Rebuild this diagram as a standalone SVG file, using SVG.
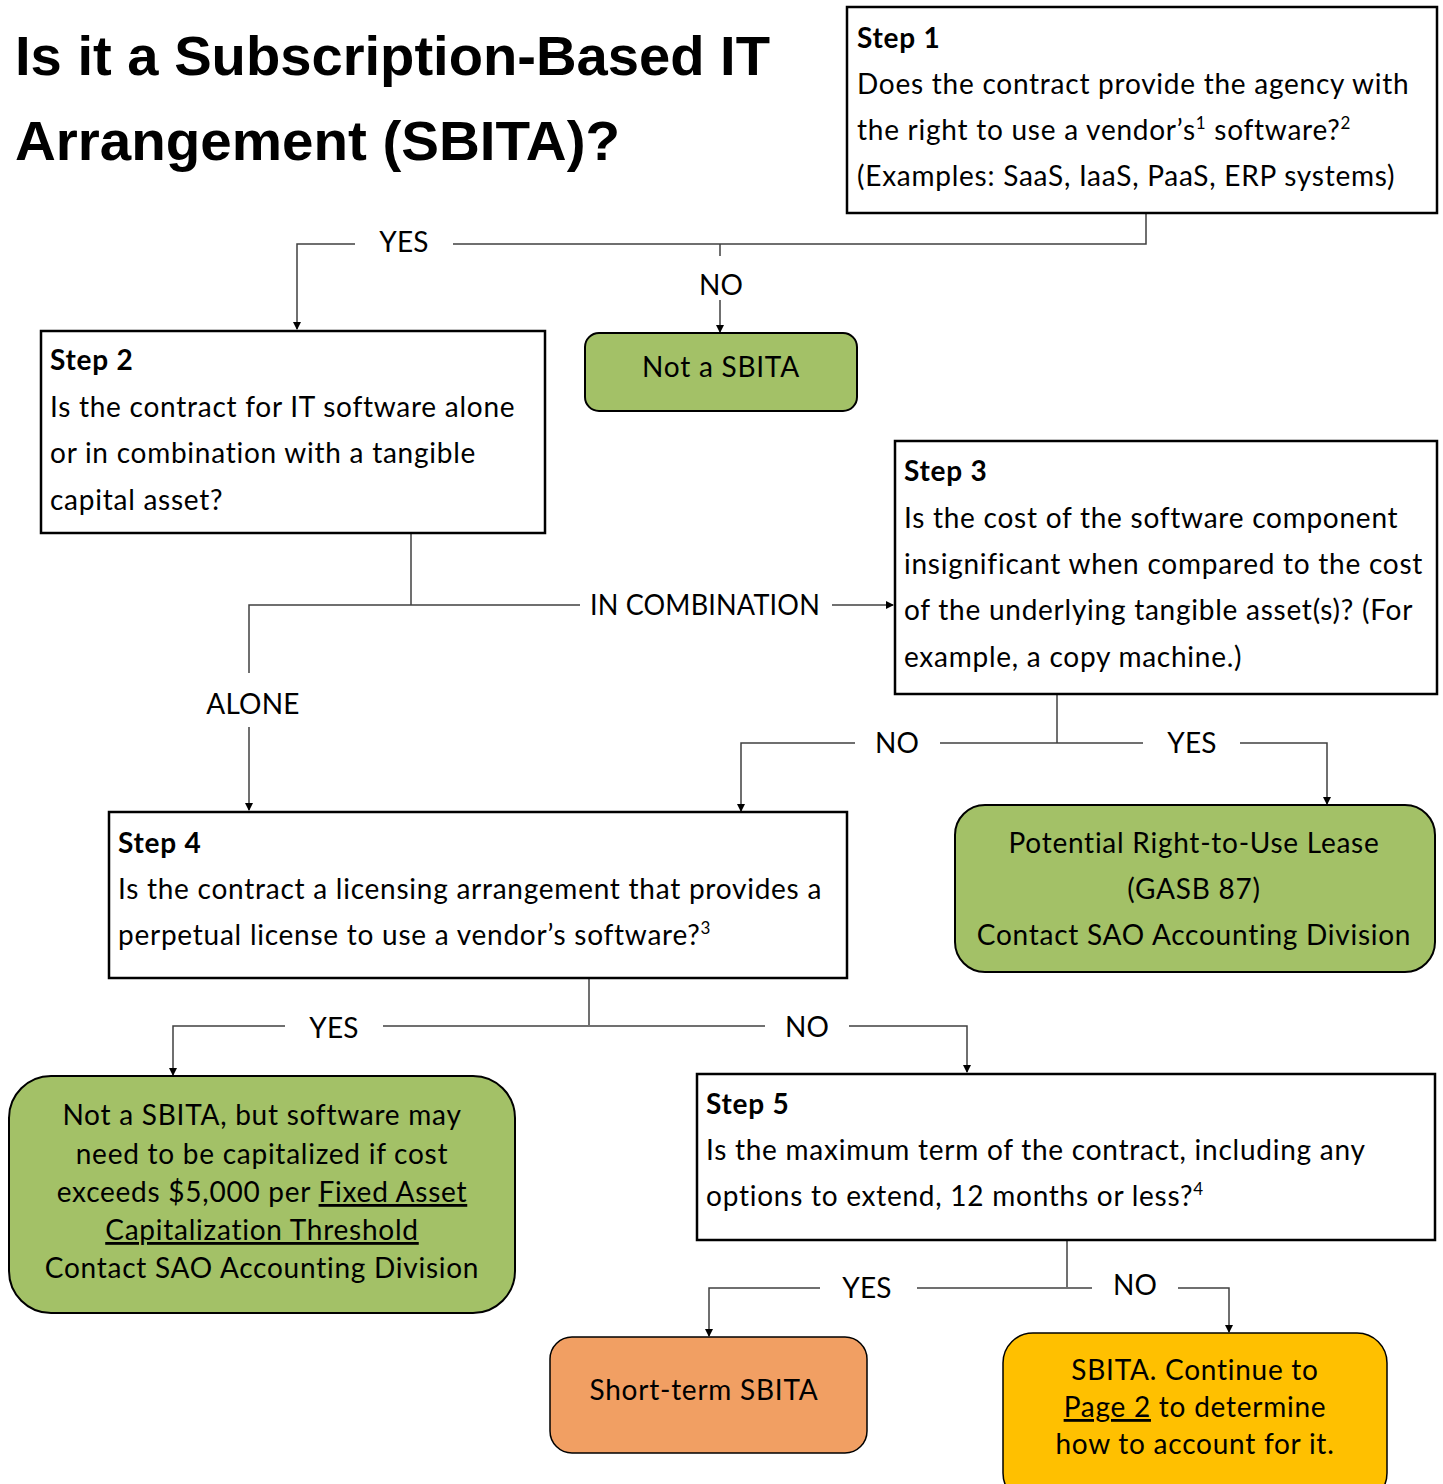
<svg xmlns="http://www.w3.org/2000/svg" width="1443" height="1484" viewBox="0 0 1443 1484">
<defs>
<marker id="arr" markerWidth="8" markerHeight="8" refX="7" refY="4" orient="auto" markerUnits="userSpaceOnUse">
<path d="M0,0 L8,4 L0,8 Z" fill="#000"/>
</marker>
<style>
.box{fill:#fff;stroke:#000;stroke-width:2.5}
.green{fill:#A3C167;stroke:#000;stroke-width:2}
.orange{fill:#F19F63;stroke:#000;stroke-width:1.5}
.yellow{fill:#FFC000;stroke:#000;stroke-width:1.5}
.t{font-family:Lato,"Liberation Sans",sans-serif;font-size:28px;letter-spacing:0.75px;fill:#000}
.lb{letter-spacing:0.2px}
.b{font-weight:bold}
.c{text-anchor:middle}
.ln{fill:none;stroke:#404040;stroke-width:1.5}
.title{font-family:"Liberation Sans",Arial,sans-serif;font-weight:bold;font-size:56px;fill:#000}
.sup{font-size:17px}
</style>
</defs>
<rect width="1443" height="1484" fill="#fff"/>

<g id="title">
<text class="title" x="15" y="75" textLength="755" lengthAdjust="spacingAndGlyphs">Is it a Subscription-Based IT</text>
<text class="title" x="15" y="160" textLength="605" lengthAdjust="spacingAndGlyphs">Arrangement (SBITA)?</text>
</g>

<g id="connectors">
<path class="ln" d="M1146,213 V244 H453"/>
<path class="ln" d="M355,244 H297 V329" marker-end="url(#arr)"/>
<path class="ln" d="M720,244 V256"/>
<path class="ln" d="M720,300 V332" marker-end="url(#arr)"/>
<path class="ln" d="M411,533 V605"/>
<path class="ln" d="M580,605 H249 V673"/>
<path class="ln" d="M249,727 V810" marker-end="url(#arr)"/>
<path class="ln" d="M832,605 H893" marker-end="url(#arr)"/>
<path class="ln" d="M1057,694 V743"/>
<path class="ln" d="M855,743 H741 V811" marker-end="url(#arr)"/>
<path class="ln" d="M940,743 H1143"/>
<path class="ln" d="M1240,743 H1327 V804" marker-end="url(#arr)"/>
<path class="ln" d="M589,978 V1025"/>
<path class="ln" d="M285,1026 H173 V1075" marker-end="url(#arr)"/>
<path class="ln" d="M383,1026 H765"/>
<path class="ln" d="M849,1026 H967 V1072" marker-end="url(#arr)"/>
<path class="ln" d="M1067,1240 V1287"/>
<path class="ln" d="M820,1288 H709 V1336" marker-end="url(#arr)"/>
<path class="ln" d="M917,1288 H1092"/>
<path class="ln" d="M1178,1288 H1229 V1332" marker-end="url(#arr)"/>
<text class="t lb c" x="404" y="252">YES</text>
<text class="t lb c" x="721" y="295">NO</text>
<text class="t lb" x="590" y="615" textLength="230" lengthAdjust="spacingAndGlyphs">IN COMBINATION</text>
<text class="t lb c" x="253" y="714">ALONE</text>
<text class="t lb c" x="897" y="753">NO</text>
<text class="t lb c" x="1192" y="753">YES</text>
<text class="t lb c" x="334" y="1038">YES</text>
<text class="t lb c" x="807" y="1037">NO</text>
<text class="t lb c" x="867" y="1298">YES</text>
<text class="t lb c" x="1135" y="1295">NO</text>
</g>

<g id="step1">
<rect class="box" x="847" y="7" width="590" height="206"/>
<text class="t b" x="857" y="48">Step 1</text>
<text class="t" x="857" y="94">Does the contract provide the agency with</text>
<text class="t" x="857" y="140">the right to use a vendor’s<tspan class="sup" dy="-11">1</tspan><tspan dy="11"> software?</tspan><tspan class="sup" dy="-11">2</tspan></text>
<text class="t" x="857" y="186">(Examples: SaaS, IaaS, PaaS, ERP systems)</text>
</g>

<g id="not-sbita">
<rect class="green" x="585" y="333" width="272" height="78" rx="14"/>
<text class="t c" x="721" y="377">Not a SBITA</text>
</g>

<g id="step2">
<rect class="box" x="41" y="331" width="504" height="202"/>
<text class="t b" x="50" y="370">Step 2</text>
<text class="t" x="50" y="417">Is the contract for IT software alone</text>
<text class="t" x="50" y="463">or in combination with a tangible</text>
<text class="t" x="50" y="510">capital asset?</text>
</g>

<g id="step3">
<rect class="box" x="895" y="441" width="542" height="253"/>
<text class="t b" x="904" y="481">Step 3</text>
<text class="t" x="904" y="528">Is the cost of the software component</text>
<text class="t" x="904" y="574">insignificant when compared to the cost</text>
<text class="t" x="904" y="620">of the underlying tangible asset(s)? (For</text>
<text class="t" x="904" y="667">example, a copy machine.)</text>
</g>

<g id="lease">
<rect class="green" x="955" y="805" width="480" height="167" rx="30"/>
<text class="t c" x="1194" y="853">Potential Right-to-Use Lease</text>
<text class="t c" x="1194" y="899">(GASB 87)</text>
<text class="t c" x="1194" y="945">Contact SAO Accounting Division</text>
</g>

<g id="step4">
<rect class="box" x="109" y="812" width="738" height="166"/>
<text class="t b" x="118" y="853">Step 4</text>
<text class="t" x="118" y="899">Is the contract a licensing arrangement that provides a</text>
<text class="t" x="118" y="945">perpetual license to use a vendor’s software?<tspan class="sup" dy="-11">3</tspan></text>
</g>

<g id="capitalize">
<rect class="green" x="9" y="1076" width="506" height="237" rx="42"/>
<text class="t c" x="262" y="1125">Not a SBITA, but software may</text>
<text class="t c" x="262" y="1164">need to be capitalized if cost</text>
<text class="t c" x="262" y="1202">exceeds $5,000 per <tspan text-decoration="underline">Fixed Asset</tspan></text>
<text class="t c" x="262" y="1240" text-decoration="underline">Capitalization Threshold</text>
<text class="t c" x="262" y="1278">Contact SAO Accounting Division</text>
</g>

<g id="step5">
<rect class="box" x="697" y="1074" width="738" height="166"/>
<text class="t b" x="706" y="1114">Step 5</text>
<text class="t" x="706" y="1160">Is the maximum term of the contract, including any</text>
<text class="t" x="706" y="1206">options to extend, 12 months or less?<tspan class="sup" dy="-11">4</tspan></text>
</g>

<g id="short-term">
<rect class="orange" x="550" y="1337" width="317" height="116" rx="22"/>
<text class="t c" x="704" y="1400">Short-term SBITA</text>
</g>

<g id="sbita">
<rect class="yellow" x="1003" y="1333" width="384" height="170" rx="30"/>
<text class="t c" x="1195" y="1380">SBITA. Continue to</text>
<text class="t c" x="1195" y="1417"><tspan text-decoration="underline">Page 2</tspan> to determine</text>
<text class="t c" x="1195" y="1454">how to account for it.</text>
</g>
</svg>
